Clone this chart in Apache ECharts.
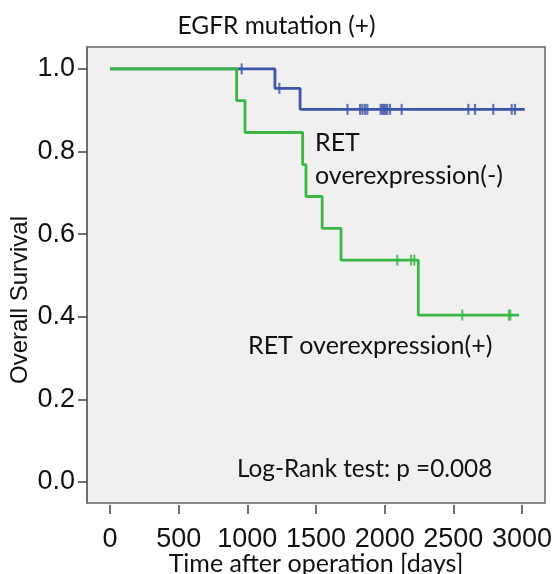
<!DOCTYPE html>
<html>
<head>
<meta charset="utf-8">
<script src="https://cdn.jsdelivr.net/npm/echarts@6/dist/echarts.min.js"></script>
<style>
  html, body { margin: 0; padding: 0; background: #fff; }
  #chart { width: 553px; height: 574px; }
</style>
</head>
<body>
<div id="chart"></div>
<script>
// Kaplan-Meier steps (days, survival)
var negTimes = [0, 1201, 1384, 3020];
var negSurv  = [1, 0.953, 0.902, 0.902];
var posTimes = [0, 922, 983, 1403, 1427, 1545, 1682, 2245, 2978];
var posSurv  = [1, 0.923, 0.846, 0.768, 0.691, 0.614, 0.537, 0.404, 0.404];

// censored observations (days)
var negCensor = [959, 1233, 1729, 1821, 1838, 1857, 1874, 1971, 1983, 1995, 2007,
                 2019, 2039, 2124, 2609, 2658, 2791, 2925, 2949];
var posCensor = [2092, 2192, 2216, 2565, 2905, 2915];

var xTicks = [0, 500, 1000, 1500, 2000, 2500, 3000];
var yTicks = [0, 0.2, 0.4, 0.6, 0.8, 1.0];

var blue = '#3d55a8';
var green = '#3bb843';
var calib = 'Lato, "Open Sans", sans-serif';
var arial = '"Liberation Sans", Arial, sans-serif';

function zip(xs, ys) {
  return xs.map(function (x, i) { return [x, ys[i]]; });
}
// survival value of the step curve at time t
function survAt(times, surv, t) {
  var s = surv[0];
  for (var i = 0; i < times.length; i++) {
    if (times[i] <= t) s = surv[i];
  }
  return s;
}
function censorPoints(c, times, surv) {
  return c.map(function (t) { return [t, survAt(times, surv, t)]; });
}

var chart = echarts.init(document.getElementById('chart'));

chart.setOption({
  animation: false,
  title: {
    text: 'EGFR mutation (+)',
    left: 'center',
    top: 9,
    textStyle: { fontFamily: calib, fontSize: 24.5, fontWeight: 'normal', color: '#111' }
  },
  grid: {
    left: 87, right: 8, top: 47, bottom: 71,
    outerBoundsMode: 'none',
    containLabel: false,
    show: true,
    backgroundColor: '#f0f0f0',
    borderColor: '#666',
    borderWidth: 1.5
  },
  xAxis: {
    type: 'value',
    min: -167.5,
    max: 3167.5,
    offset: 2,
    name: 'Time after operation [days]',
    nameLocation: 'middle',
    nameGap: 46,
    nameMoveOverlap: false,
    nameTextStyle: { fontFamily: calib, fontSize: 25, color: '#111' },
    axisLine: { show: false, onZero: false },
    axisTick: { show: true, length: 9, customValues: xTicks, lineStyle: { color: '#444', width: 1.5 } },
    axisLabel: {
      customValues: xTicks, margin: 21, fontFamily: arial, fontSize: 27, color: '#111',
      formatter: function (v) { return String(v); }
    },
    splitLine: { show: false }
  },
  yAxis: {
    type: 'value',
    min: -0.051,
    max: 1.053,
    axisLine: { show: true, onZero: false, lineStyle: { color: '#666', width: 1.5 } },
    axisTick: { show: true, length: 9, customValues: yTicks, lineStyle: { color: '#444', width: 1.5 } },
    axisLabel: {
      customValues: yTicks, margin: 12, fontFamily: arial, fontSize: 27, color: '#111',
      formatter: function (v) { return v.toFixed(1); }
    },
    splitLine: { show: false }
  },
  graphic: [
    {
      type: 'text', x: 20, y: 300, rotation: Math.PI / 2,
      style: { text: 'Overall Survival', font: '24px ' + arial, fill: '#111',
               textAlign: 'center', textVerticalAlign: 'middle' }
    },
    {
      type: 'text', x: 315, y: 143,
      style: { text: 'RET', font: '25px ' + calib, fill: '#111', textVerticalAlign: 'middle' }
    },
    {
      type: 'text', x: 315, y: 176,
      style: { text: 'overexpression(-)', font: '25px ' + calib, fill: '#111', textVerticalAlign: 'middle' }
    },
    {
      type: 'text', x: 248, y: 346,
      style: { text: 'RET overexpression(+)', font: '25px ' + calib, fill: '#111', textVerticalAlign: 'middle' }
    },
    {
      type: 'text', x: 237, y: 469,
      style: { text: 'Log-Rank test: p =0.008', font: '24.3px ' + calib, fill: '#111', textVerticalAlign: 'middle' }
    }
  ],
  series: [
    {
      type: 'line', step: 'end', data: zip(negTimes, negSurv),
      showSymbol: false, lineStyle: { color: blue, width: 2.8 }, z: 2
    },
    {
      type: 'scatter', data: censorPoints(negCensor, negTimes, negSurv),
      symbol: 'rect', symbolSize: [2.2, 11], itemStyle: { color: blue }, z: 3
    },
    {
      type: 'line', step: 'end', data: zip(posTimes, posSurv),
      showSymbol: false, lineStyle: { color: green, width: 2.8 }, z: 4
    },
    {
      type: 'scatter', data: censorPoints(posCensor, posTimes, posSurv),
      symbol: 'rect', symbolSize: [2.2, 11], itemStyle: { color: green }, z: 5
    }
  ]
});
</script>
</body>
</html>
